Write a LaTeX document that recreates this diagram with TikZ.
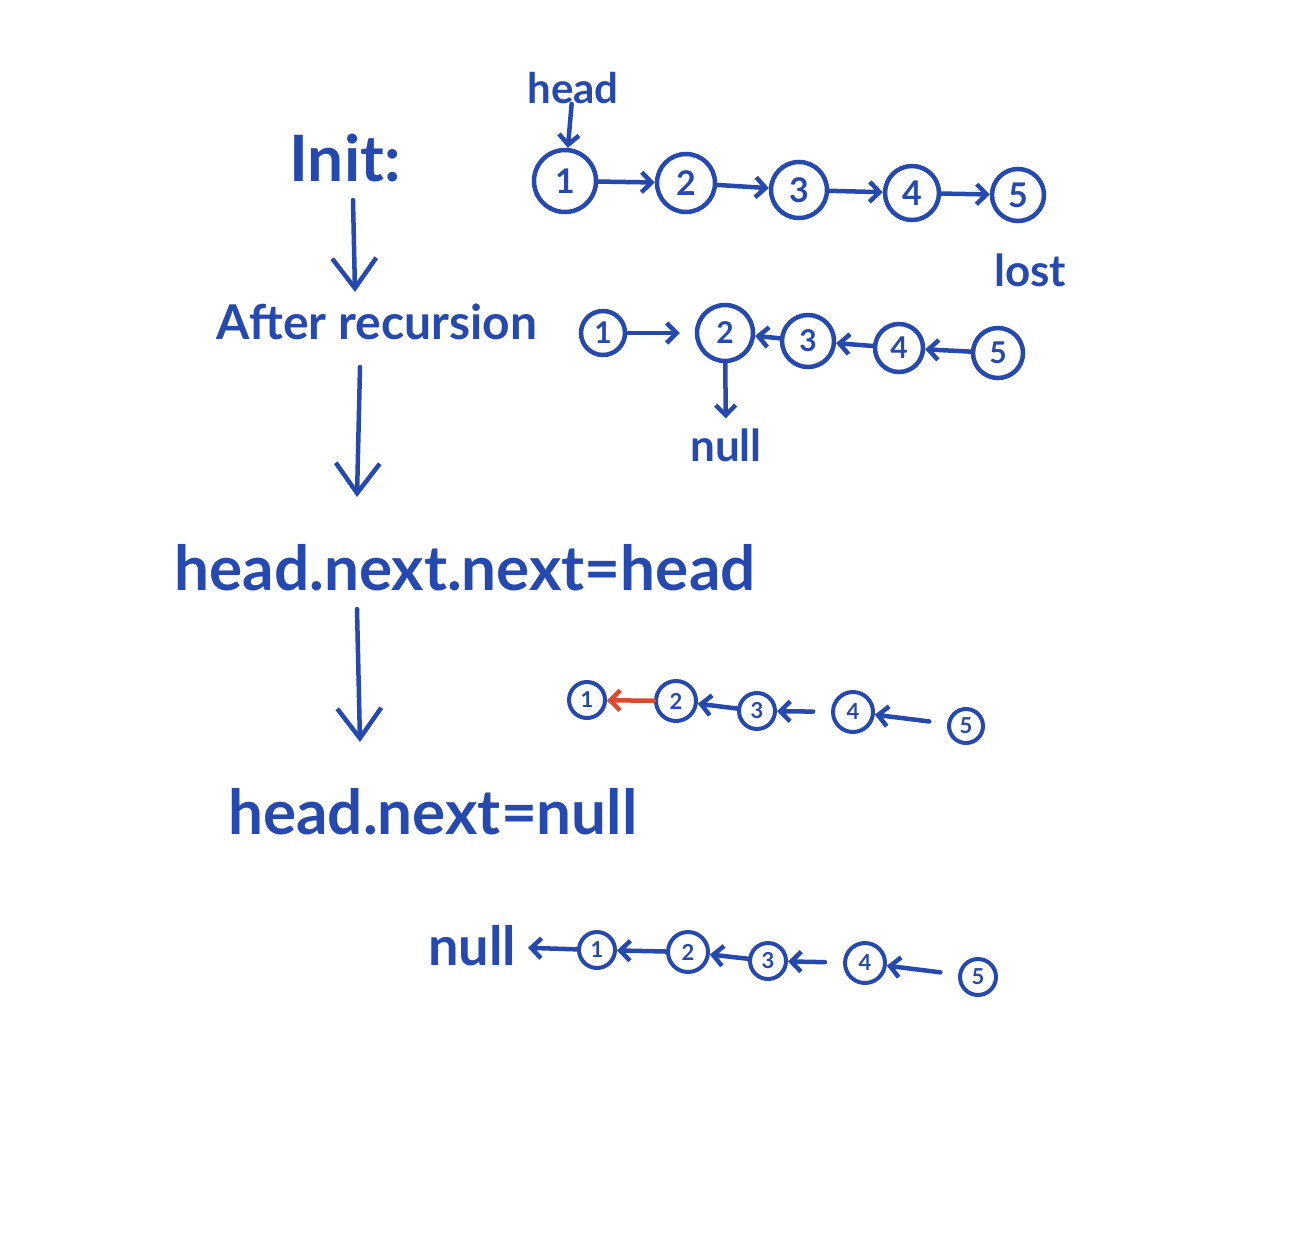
\documentclass[tikz,border=0pt]{standalone}
\usepackage{fontspec}
\setmainfont{Lato}
\usetikzlibrary{arrows.meta}
\definecolor{ink}{RGB}{38,73,175}
\definecolor{redink}{RGB}{222,72,45}
\begin{document}
\begin{tikzpicture}[x=1pt,y=-1pt,
  txt/.style={text=ink, inner sep=0pt},
  nd/.style={circle, draw=ink, line width=4.5pt, inner sep=0pt, text=ink},
  ndA/.style={nd, minimum size=#1, font=\bfseries\fontsize{34}{40}\selectfont},
  ndB/.style={nd, minimum size=#1, font=\bfseries\fontsize{30}{36}\selectfont},
  ndC/.style={nd, minimum size=#1, line width=4pt, font=\bfseries\fontsize{22}{26}\selectfont},
  arr/.style={draw=ink, line width=4.5pt, line cap=round,
    -{Straight Barb[length=10pt,width=20pt,line width=4.5pt]}},
  rarr/.style={arr, draw=redink},
  big/.style={draw=ink, line width=4.5pt, line cap=round,
    -{Straight Barb[length=30pt,width=44pt,line width=4.5pt]}}]
\fill[white] (0,0) rectangle (1290,1252);
\useasboundingbox (0,0) rectangle (1290,1252);

% ---------- row 1: Init ----------
\node[txt, font=\bfseries\fontsize{64}{76}\selectfont] (init) at (345,158) {Init:};
\node[txt, font=\bfseries\fontsize{42}{50}\selectfont] (head) at (573,88) {head};
\node[ndA=62] (a1) at (565,181) {1};
\node[ndA=58] (a2) at (686,183) {2};
\node[ndA=56] (a3) at (799,190) {3};
\node[ndA=54] (a4) at (912,193) {4};
\node[ndA=52] (a5) at (1018,195) {5};
\node[txt, font=\bfseries\fontsize{44}{52}\selectfont] (lost) at (1030,270) {lost};
\draw[arr] (head) -- (a1);
\draw[arr] (a1) -- (a2);
\draw[arr] (a2) -- (a3);
\draw[arr] (a3) -- (a4);
\draw[arr] (a4) -- (a5);

\coordinate (v1s) at (353,200);
\coordinate (v1e) at (355,292);
\draw[big] (v1s) -- (v1e);

% ---------- row 2: After recursion ----------
\node[txt, font=\bfseries\fontsize{48}{56}\selectfont] (after) at (377,322) {After recursion};
\node[ndB=44] (b1) at (603,333) {1};
\node[ndB=56] (b2) at (725,333) {2};
\node[ndB=52] (b3) at (808,341) {3};
\node[ndB=48] (b4) at (899,348) {4};
\node[ndB=50] (b5) at (998,353) {5};
\node[txt, font=\bfseries\fontsize{44}{52}\selectfont] (null1) at (726,445) {null};
\draw[arr, shorten >=15pt] (b1) -- (b2);
\draw[arr] (b3) -- (b2);
\draw[arr] (b4) -- (b3);
\draw[arr] (b5) -- (b4);
\draw[arr, shorten >=10pt] (b2) -- (null1);

\coordinate (v2s) at (360,367);
\coordinate (v2e) at (357,497);
\draw[big] (v2s) -- (v2e);

% ---------- row 3: head.next.next=head ----------
\node[txt, font=\bfseries\fontsize{62}{74}\selectfont] (hnn) at (465,568) {head.next.next=head};
\node[ndC=36] (c1) at (587,700) {1};
\node[ndC=40] (c2) at (676,701) {2};
\node[ndC=36] (c3) at (757,711) {3};
\node[ndC=40] (c4) at (853,712) {4};
\node[ndC=34] (c5) at (966,726) {5};
\draw[rarr] (c2) -- (c1);
\draw[arr] (c3) -- (c2);
\draw[arr, shorten <=18pt] (c4) -- (c3);
\draw[arr, shorten <=18pt] (c5) -- (c4);

\coordinate (v3s) at (357,609);
\coordinate (v3e) at (360,742);
\draw[big] (v3s) -- (v3e);

% ---------- row 4: head.next=null ----------
\node[txt, font=\bfseries\fontsize{62}{74}\selectfont] (hnnull) at (433,812) {head.next=null};

% ---------- row 5: final list ----------
\node[txt, font=\bfseries\fontsize{54}{64}\selectfont] (null2) at (472,946) {null};
\node[ndC=36] (d1) at (597,950) {1};
\node[ndC=40] (d2) at (688,952) {2};
\node[ndC=36] (d3) at (768,961) {3};
\node[ndC=40] (d4) at (865,963) {4};
\node[ndC=36] (d5) at (978,977) {5};
\draw[arr, shorten >=12pt] (d1) -- (null2);
\draw[arr] (d2) -- (d1);
\draw[arr] (d3) -- (d2);
\draw[arr, shorten <=18pt] (d4) -- (d3);
\draw[arr, shorten <=18pt] (d5) -- (d4);
\end{tikzpicture}
\end{document}
